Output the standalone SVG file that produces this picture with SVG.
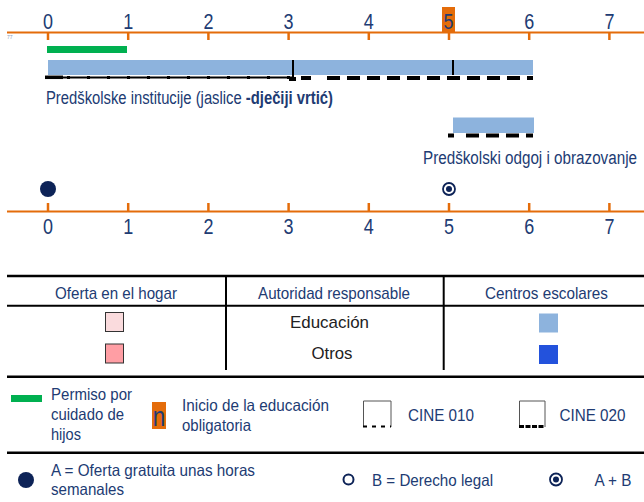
<svg xmlns="http://www.w3.org/2000/svg" width="644" height="502" viewBox="0 0 644 502">
<defs>
<style>
.t{font-family:"Liberation Sans Narrow","Liberation Sans",Arial,sans-serif;fill:#213b73;}
.dig{font-size:22.5px;text-anchor:middle;}
.lab{font-size:18px;}
.hd{font-size:17px;text-anchor:middle;}
.body{font-size:17px;text-anchor:middle;fill:#222;}
.lg{font-size:16.5px;}
.axis{stroke:#e46c0a;stroke-width:2.2;fill:none;}
.tick{stroke:#e46c0a;stroke-width:2.5;}
.rule{stroke:#000;fill:none;}
.dash{stroke:#000;stroke-width:4;stroke-dasharray:13 7;fill:none;}
.bar{fill:#8db3dd;}
</style>
</defs>
<rect width="644" height="502" fill="#fff"/>

<g id="top-axis">
<rect x="442" y="7" width="13" height="26" fill="#e46c0a"/>
<line class="axis" x1="7" y1="32.5" x2="644" y2="32.5"/>
<g class="tick">
<line x1="48" y1="33" x2="48" y2="40"/><line x1="128.2" y1="33" x2="128.2" y2="40"/><line x1="208.4" y1="33" x2="208.4" y2="40"/><line x1="288.6" y1="33" x2="288.6" y2="40"/><line x1="368.8" y1="33" x2="368.8" y2="40"/><line x1="449" y1="33" x2="449" y2="40"/><line x1="529.2" y1="33" x2="529.2" y2="40"/><line x1="609.4" y1="33" x2="609.4" y2="40"/>
</g>
<g class="t dig">
<text x="48" y="28.5" textLength="10" lengthAdjust="spacingAndGlyphs">0</text><text x="128.2" y="28.5" textLength="10" lengthAdjust="spacingAndGlyphs">1</text><text x="208.4" y="28.5" textLength="10" lengthAdjust="spacingAndGlyphs">2</text><text x="288.6" y="28.5" textLength="10" lengthAdjust="spacingAndGlyphs">3</text><text x="368.8" y="28.5" textLength="10" lengthAdjust="spacingAndGlyphs">4</text><text x="448.5" y="28.5" textLength="10" lengthAdjust="spacingAndGlyphs">5</text><text x="529.2" y="28.5" textLength="10" lengthAdjust="spacingAndGlyphs">6</text><text x="609.4" y="28.5" textLength="10" lengthAdjust="spacingAndGlyphs">7</text>
</g>
<text x="7" y="39" font-family="Liberation Sans,sans-serif" font-size="5" fill="#8a9ab8">77</text>
</g>

<g id="parental-leave">
<rect x="47" y="46" width="80" height="7" fill="#00b050"/>
</g>

<g id="predskolske-institucije">
<rect class="bar" x="48" y="60" width="485" height="15"/>
<line class="rule" x1="45" y1="77.5" x2="293" y2="77.5" stroke-width="2"/>
<line class="rule" x1="45" y1="77.3" x2="63" y2="77.3" stroke-width="3.5"/>
<line class="rule" x1="67" y1="77.5" x2="290" y2="77.5" stroke-width="3" stroke-dasharray="3 17" stroke="#333"/>
<rect x="289" y="77" width="7" height="4" fill="#000"/>
<rect x="301" y="76" width="10" height="4" fill="#000"/>
<line class="dash" x1="327" y1="78" x2="533" y2="78"/>
<line class="rule" x1="293" y1="60" x2="293" y2="80" stroke-width="2"/>
<line class="rule" x1="453" y1="60" x2="453" y2="75" stroke-width="2"/>
<text class="t lab" x="46" y="103.5" textLength="287" lengthAdjust="spacingAndGlyphs">Predškolske institucije (jaslice <tspan font-weight="bold">-dječiji vrtić)</tspan></text>
</g>

<g id="predskolski-odgoj">
<rect class="bar" x="453" y="117.5" width="81" height="15.5"/>
<rect x="448" y="133.5" width="6" height="4" fill="#000"/>
<line class="dash" x1="466" y1="135.5" x2="533" y2="135.5"/>
<text class="t lab" x="637" y="163.5" text-anchor="end" textLength="214" lengthAdjust="spacingAndGlyphs">Predškolski odgoj i obrazovanje</text>
</g>

<g id="markers">
<circle cx="48" cy="189" r="8" fill="#0d2357"/>
<circle cx="449" cy="189" r="6" fill="none" stroke="#0d2357" stroke-width="1.8"/>
<circle cx="449" cy="189" r="3" fill="#0d2357"/>
</g>

<g id="bottom-axis">
<line class="axis" x1="7" y1="211.5" x2="644" y2="211.5"/>
<g class="tick">
<line x1="48" y1="203" x2="48" y2="211"/><line x1="128.2" y1="203" x2="128.2" y2="211"/><line x1="208.4" y1="203" x2="208.4" y2="211"/><line x1="288.6" y1="203" x2="288.6" y2="211"/><line x1="368.8" y1="203" x2="368.8" y2="211"/><line x1="449" y1="203" x2="449" y2="211"/><line x1="529.2" y1="203" x2="529.2" y2="211"/><line x1="609.4" y1="203" x2="609.4" y2="211"/>
</g>
<g class="t dig">
<text x="48" y="233.5" textLength="10" lengthAdjust="spacingAndGlyphs">0</text><text x="128.2" y="233.5" textLength="10" lengthAdjust="spacingAndGlyphs">1</text><text x="208.4" y="233.5" textLength="10" lengthAdjust="spacingAndGlyphs">2</text><text x="288.6" y="233.5" textLength="10" lengthAdjust="spacingAndGlyphs">3</text><text x="368.8" y="233.5" textLength="10" lengthAdjust="spacingAndGlyphs">4</text><text x="449" y="233.5" textLength="10" lengthAdjust="spacingAndGlyphs">5</text><text x="529.2" y="233.5" textLength="10" lengthAdjust="spacingAndGlyphs">6</text><text x="609.4" y="233.5" textLength="10" lengthAdjust="spacingAndGlyphs">7</text>
</g>
</g>

<g id="table">
<line class="rule" x1="7" y1="276" x2="644" y2="276" stroke-width="2.5"/>
<line class="rule" x1="7" y1="305.8" x2="644" y2="305.8" stroke-width="2"/>
<line class="rule" x1="7" y1="376.8" x2="644" y2="376.8" stroke-width="2.5"/>
<line class="rule" x1="226" y1="276" x2="226" y2="370" stroke-width="2"/>
<line class="rule" x1="443.7" y1="276" x2="443.7" y2="370" stroke-width="2"/>
<text class="t hd" x="116" y="298.5" textLength="122" lengthAdjust="spacingAndGlyphs">Oferta en el hogar</text>
<text class="t hd" x="334" y="298.5" textLength="152" lengthAdjust="spacingAndGlyphs">Autoridad responsable</text>
<text class="t hd" x="546.5" y="298.5" textLength="123" lengthAdjust="spacingAndGlyphs">Centros escolares</text>
<rect x="105.5" y="312.5" width="18" height="19" fill="#fadbdd" stroke="#333" stroke-width="1"/>
<rect x="105.5" y="344" width="18" height="19" fill="#ff9ea4" stroke="#333" stroke-width="1"/>
<text class="t body" x="329.5" y="327.5" textLength="79" lengthAdjust="spacingAndGlyphs">Educación</text>
<text class="t body" x="332" y="359" textLength="41" lengthAdjust="spacingAndGlyphs">Otros</text>
<rect x="539" y="313.5" width="19" height="19" fill="#8db3dd"/>
<rect x="539" y="345" width="19" height="19" fill="#2352dc"/>
</g>

<g id="legend">
<line class="rule" x1="7" y1="452.7" x2="644" y2="452.7" stroke-width="2.5"/>
<rect x="11" y="395" width="31" height="7" fill="#00b050"/>
<text class="t lg" x="51" y="399.5" textLength="81" lengthAdjust="spacingAndGlyphs">Permiso por</text>
<text class="t lg" x="51" y="420" textLength="73" lengthAdjust="spacingAndGlyphs">cuidado de</text>
<text class="t lg" x="51" y="440" textLength="30" lengthAdjust="spacingAndGlyphs">hijos</text>
<rect x="152" y="402" width="14" height="27" fill="#e46c0a"/>
<text class="t" x="159" y="426" font-size="28" text-anchor="middle" textLength="12.5" lengthAdjust="spacingAndGlyphs">n</text>
<text class="t lg" x="182" y="410.5" textLength="147" lengthAdjust="spacingAndGlyphs">Inicio de la educación</text>
<text class="t lg" x="182" y="430.5" textLength="69" lengthAdjust="spacingAndGlyphs">obligatoria</text>
<path d="M363.5,427 V401 H391 V427" fill="none" stroke="#555" stroke-width="1"/>
<line x1="363" y1="426.5" x2="391" y2="426.5" stroke="#000" stroke-width="2" stroke-dasharray="4 5"/>
<text class="t lg" x="408" y="420.5" textLength="66" lengthAdjust="spacingAndGlyphs">CINE 010</text>
<path d="M519.5,427 V401 H545 V427" fill="none" stroke="#555" stroke-width="1"/>
<line x1="519" y1="426.5" x2="545" y2="426.5" stroke="#000" stroke-width="3" stroke-dasharray="5 1.5"/>
<text class="t lg" x="559.5" y="420.5" textLength="66" lengthAdjust="spacingAndGlyphs">CINE 020</text>
<circle cx="26" cy="480" r="8" fill="#0d2357"/>
<text class="t lg" x="51" y="475.5" textLength="204" lengthAdjust="spacingAndGlyphs">A = Oferta gratuita unas horas</text>
<text class="t lg" x="51" y="494.5" textLength="73" lengthAdjust="spacingAndGlyphs">semanales</text>
<circle cx="348.5" cy="479.5" r="5" fill="none" stroke="#0d2357" stroke-width="2"/>
<text class="t lg" x="372" y="485.5" textLength="121" lengthAdjust="spacingAndGlyphs">B = Derecho legal</text>
<circle cx="556" cy="479.5" r="6" fill="none" stroke="#0d2357" stroke-width="1.8"/>
<circle cx="556" cy="479.5" r="3" fill="#0d2357"/>
<text class="t lg" x="594.5" y="485.5" textLength="37" lengthAdjust="spacingAndGlyphs">A + B</text>
</g>
</svg>
